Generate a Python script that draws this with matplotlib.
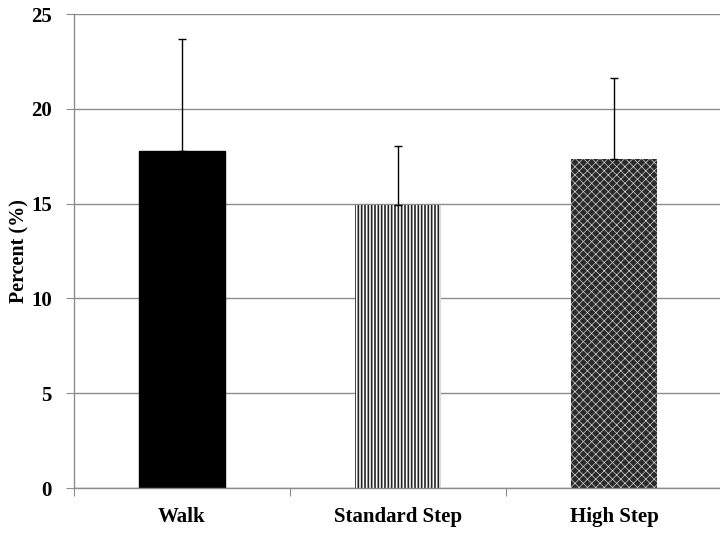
import matplotlib
matplotlib.use('Agg')
import matplotlib.pyplot as plt
import numpy as np

# Data
categories = ['Walk', 'Standard Step', 'High Step']
means = [17.75, 14.9, 17.35]
errors = [5.95, 3.15, 4.3]

plt.rcParams['font.family'] = ['Liberation Serif', 'DejaVu Serif']
plt.rcParams['font.weight'] = 'bold'

fig = plt.figure(figsize=(7.2, 5.34), dpi=100)
ax = fig.add_axes([74 / 720, 1 - 488 / 534, 648 / 720, 474 / 534])

x = np.arange(len(categories))
width = 0.4
grid_color = '#8c8c8c'

# Gridlines behind bars
ax.set_axisbelow(True)
ax.yaxis.grid(True, color=grid_color, linewidth=1)

# Walk: solid black
ax.bar(x[0], means[0], width=width, color='black', edgecolor='black', zorder=2)
# Standard step: dense vertical lines
with plt.rc_context({'hatch.linewidth': 1.2}):
    ax.bar(x[1], means[1], width=width, color='white', edgecolor='#222222',
           hatch='|||||', linewidth=0, zorder=2)
# High step: dark checker pattern with light dots
with plt.rc_context({'hatch.linewidth': 0.5}):
    ax.bar(x[2], means[2], width=width, color='#2a2a2a', edgecolor='#d0d0d0',
           hatch='xxxx', linewidth=0, zorder=2)

# Upper error bars only
ax.errorbar(x, means, yerr=[np.zeros(len(errors)), errors], fmt='none',
            ecolor='black', elinewidth=1, capsize=3, capthick=1, zorder=3)

ax.set_xlim(-0.5, 2.5)
ax.set_ylim(0, 25)
ax.set_yticks([0, 5, 10, 15, 20, 25])
ax.set_yticklabels(['0', '5', '10', '15', '20', '25'], fontsize=15, fontweight='bold')

# Category labels centered, tick marks between categories
ax.set_xticks([-0.5, 0.5, 1.5, 2.5])
ax.set_xticklabels([])
ax.set_xticks(x, minor=True)
ax.set_xticklabels(categories, minor=True, fontsize=15, fontweight='bold')
ax.tick_params(axis='x', which='minor', length=0, pad=14)
ax.tick_params(axis='x', which='major', length=6, color=grid_color, direction='out')
ax.tick_params(axis='y', length=6, color=grid_color, pad=10)

for side in ['top', 'right']:
    ax.spines[side].set_visible(False)
for side in ['left', 'bottom']:
    ax.spines[side].set_color(grid_color)
    ax.spines[side].set_linewidth(1)

ax.set_ylabel('Percent (%)', fontsize=14.5, fontweight='bold', labelpad=1)

fig.savefig('out.png', dpi=100)
